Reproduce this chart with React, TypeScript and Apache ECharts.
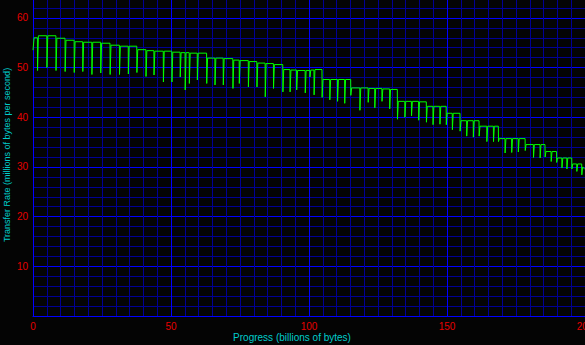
import React, { useEffect, useRef } from "react";
import * as echarts from "echarts";

// Progress (billions of bytes) at which each periodic dip occurs
const dipAt = [
  1.6, 5.0, 8.3, 11.6, 14.9, 18.0, 21.3, 24.5, 27.9, 31.3,
  34.5, 37.6, 40.9, 43.8, 47.2, 50.3, 53.3, 55.1, 56.6, 59.5,
  62.9, 65.9, 68.9, 72.4, 74.7, 78.0, 81.1, 84.1, 87.1, 90.5,
  93.1, 95.5, 98.6, 100.3, 101.8, 104.7, 107.5, 110.3, 112.9, 115.1,
  118.4, 121.4, 123.8, 126.4, 129.2, 132.0, 134.7, 137.1, 139.7, 142.5,
  144.9, 147.4, 149.7, 151.9, 154.7, 157.1, 159.5, 161.6, 164.4, 166.8,
  168.6, 171.0, 173.4, 175.8, 178.3, 181.3, 183.7, 185.5, 187.7, 189.7,
  191.6, 193.4, 195.2, 197.0, 198.8,
];

// Lowest transfer rate reached in each dip
const dipLow = [
  49.4, 50.0, 49.4, 49.2, 49.0, 49.2, 48.6, 48.9, 48.6, 48.6,
  48.7, 49.0, 48.2, 48.5, 47.1, 47.1, 48.1, 45.5, 46.8, 47.5,
  46.8, 46.5, 46.5, 45.8, 46.8, 46.1, 46.1, 44.1, 45.8, 45.1,
  45.1, 45.5, 44.9, 48.1, 44.5, 44.0, 43.5, 43.2, 42.8, 44.4,
  41.4, 43.0, 41.9, 43.2, 41.7, 39.6, 40.0, 40.3, 39.4, 39.0,
  38.5, 38.6, 38.5, 37.5, 37.2, 36.2, 36.0, 36.2, 35.1, 35.1,
  35.1, 32.8, 32.9, 33.0, 33.3, 31.9, 31.8, 32.0, 31.1, 30.9,
  29.8, 29.6, 29.6, 29.1, 28.4,
];

// Sustained rate before the first dip
const levelStart = 56.0;
// Sustained rate after each dip
const levelAfter = [
  56.4, 56.4, 55.9, 55.5, 55.2, 55.1, 55.1, 54.9, 54.5, 54.3,
  54.3, 53.6, 53.4, 53.3, 53.3, 53.1, 53.0, 53.0, 52.9, 52.9,
  51.9, 51.9, 51.8, 51.5, 51.4, 51.2, 50.9, 50.8, 50.6, 49.6,
  49.5, 49.4, 49.4, 49.5, 49.6, 47.6, 47.6, 47.6, 47.6, 45.9,
  45.9, 45.8, 45.8, 45.7, 45.6, 43.2, 43.2, 43.2, 43.1, 42.2,
  42.2, 42.2, 40.8, 40.8, 39.3, 39.3, 39.3, 38.2, 38.2, 38.2,
  35.7, 35.7, 35.7, 35.7, 34.5, 34.5, 34.5, 33.1, 33.1, 31.8,
  31.8, 31.8, 30.6, 30.6, 30.0,
];

const firstRate = 53.5;
const lastRate = 29.5;

const xLabelEvery = 50;
const yLabelEvery = 10;

const BRIGHT = "#0000ff";
const MINOR = "#000094";

function buildSeries(): number[][] {
  const pts: number[][] = [[0, firstRate], [0.4, levelStart]];
  for (let i = 0; i < dipAt.length; i++) {
    const before = i === 0 ? levelStart : levelAfter[i - 1];
    pts.push([dipAt[i], before]);
    pts.push([dipAt[i] + 0.05, dipLow[i]]);
    pts.push([dipAt[i] + 0.35, levelAfter[i]]);
  }
  pts.push([200, lastRate]);
  return pts;
}

export default function App() {
  const ref = useRef<HTMLDivElement>(null);
  useEffect(() => {
    document.body.style.margin = "0";
    const chart = echarts.init(ref.current!, null, { renderer: "svg" });
    const font = '"Liberation Sans", Arial, sans-serif';
    chart.setOption({
      animation: false,
      backgroundColor: "#040404",
      grid: {
        left: 33,
        right: 0,
        top: -2,
        bottom: 29,
        containLabel: false,
        outerBoundsMode: "none",
      },
      xAxis: {
        type: "value",
        min: 0,
        max: 200,
        interval: 5,
        axisLine: { show: true, lineStyle: { color: BRIGHT, width: 1 } },
        axisTick: { show: false },
        axisLabel: {
          color: "#e60000",
          fontSize: 10,
          fontFamily: font,
          margin: 5,
          formatter: (v: number) => (v % xLabelEvery === 0 ? String(v) : ""),
        },
        splitLine: {
          show: true,
          lineStyle: {
            width: 1,
            color: [BRIGHT, MINOR, MINOR, MINOR, MINOR, MINOR, MINOR, MINOR, MINOR, MINOR],
          },
        },
      },
      yAxis: {
        type: "value",
        min: 0,
        max: 64,
        interval: 2,
        axisLine: { show: true, lineStyle: { color: BRIGHT, width: 1 } },
        axisTick: { show: false },
        axisLabel: {
          color: "#e60000",
          fontSize: 10,
          fontFamily: font,
          margin: 5,
          formatter: (v: number) =>
            v % yLabelEvery === 0 && v > 0 && v <= 60 ? String(v) : "",
        },
        splitLine: {
          show: true,
          lineStyle: { width: 1, color: [BRIGHT, MINOR, MINOR, MINOR, MINOR] },
        },
      },
      graphic: [
        {
          type: "text",
          x: 292,
          y: 337,
          style: {
            text: "Progress (billions of bytes)",
            fill: "#00cccc",
            fontSize: 10,
            fontFamily: font,
            align: "center",
            verticalAlign: "middle",
          },
        },
        {
          type: "text",
          x: 7,
          y: 155,
          rotation: Math.PI / 2,
          style: {
            text: "Transfer Rate (millions of bytes per second)",
            fill: "#00cccc",
            fontSize: 9,
            fontFamily: font,
            align: "center",
            verticalAlign: "middle",
          },
        },
      ],
      series: [
        {
          type: "line",
          data: buildSeries(),
          symbol: "none",
          silent: true,
          lineStyle: { color: "#00ff00", width: 1 },
        },
      ],
    });
    return () => chart.dispose();
  }, []);
  return (
    <div
      ref={ref}
      style={{ position: "fixed", left: 0, top: 0, width: 585, height: 345 }}
    />
  );
}
